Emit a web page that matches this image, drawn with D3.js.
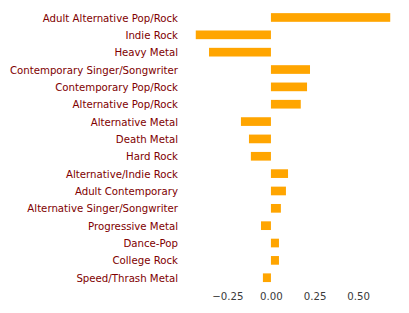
<!DOCTYPE html>
<html><head><meta charset="utf-8">
<script src="https://cdn.jsdelivr.net/npm/d3@7"></script>
<style>body{margin:0;background:#fff}svg{display:block}</style>
</head><body>
<svg id="c" width="409" height="313"></svg>
<script>
const categories = ["Adult Alternative Pop/Rock","Indie Rock","Heavy Metal","Contemporary Singer/Songwriter","Contemporary Pop/Rock","Alternative Pop/Rock","Alternative Metal","Death Metal","Hard Rock","Alternative/Indie Rock","Adult Contemporary","Alternative Singer/Songwriter","Progressive Metal","Dance-Pop","College Rock","Speed/Thrash Metal"];
const values = [0.684,-0.431,-0.355,0.224,0.207,0.171,-0.172,-0.126,-0.115,0.098,0.086,0.057,-0.057,0.046,0.046,-0.046];
const xTicks = [-0.25,0,0.25,0.5];

(function(){
const svg = d3.select("#c");
const mL = 186, mR = 400, mT = 8.8, mB = 286.4;
const x = d3.scaleLinear().domain([-0.487,0.740]).range([mL,mR]);
const y = d3.scaleBand().domain(categories).range([mT,mB]).paddingInner(0.5).paddingOuter(0.25);

svg.selectAll("rect.bar").data(values).join("rect").attr("class","bar")
  .attr("x",(d)=>x(Math.min(0,d))).attr("width",(d)=>Math.abs(x(d)-x(0)))
  .attr("y",(d,i)=>y(categories[i])).attr("height",y.bandwidth())
  .attr("fill","#FFA500");

const xa = svg.append("g").attr("transform",`translate(0,${mB})`)
  .call(d3.axisBottom(x).tickValues(xTicks).tickSize(0).tickPadding(6.5).tickFormat(d3.format(".2f")));
xa.select(".domain").remove();
xa.selectAll("text").attr("fill","#3a3a3a").style("font-family","DejaVu Sans").style("font-size","10.2px")
  .text(d=>d3.format(".2f")(d).replace("-","\u2212"));

const ya = svg.append("g").attr("transform",`translate(${mL},0)`)
  .call(d3.axisLeft(y).tickSize(0).tickPadding(8));
ya.select(".domain").remove();
ya.selectAll("text").attr("fill","#800000").attr("dy","0.4em").style("font-family","DejaVu Sans").style("font-size","10.2px");
})();
</script>
</body></html>
